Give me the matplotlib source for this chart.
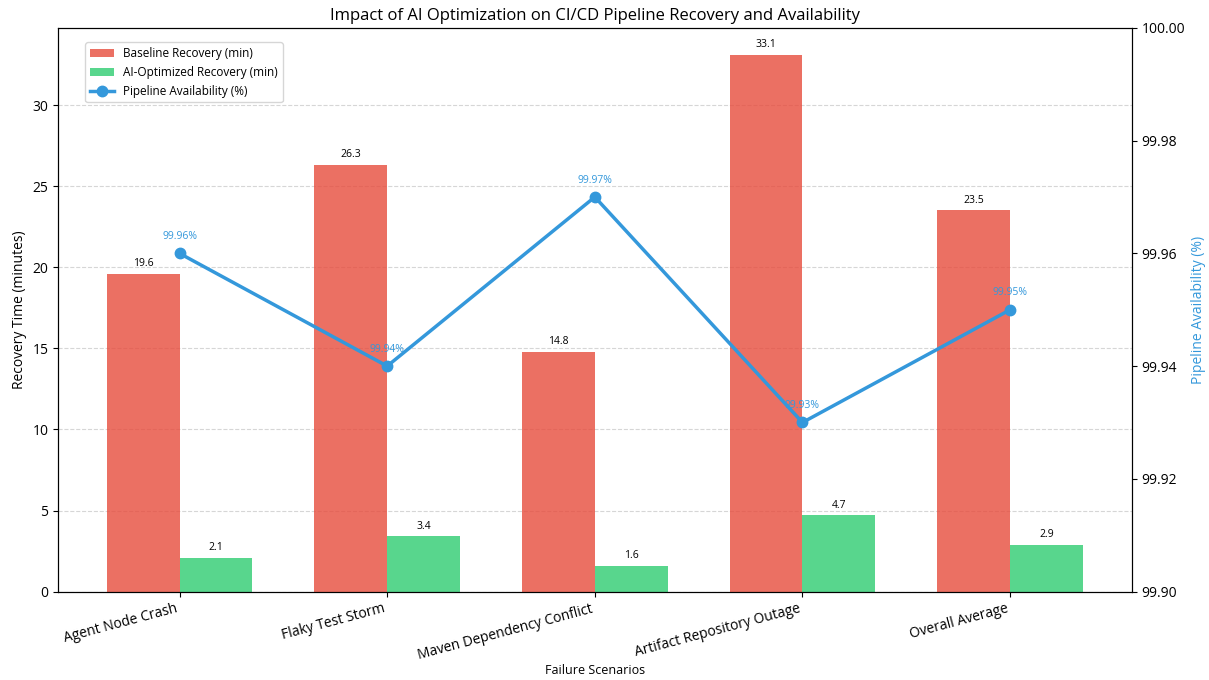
import numpy as np
import matplotlib
matplotlib.use("Agg")
import matplotlib.pyplot as plt

plt.rcParams['font.family'] = ['Open Sans', 'DejaVu Sans']

# recovery times and availability per failure scenario
scenarios = ["Agent Node Crash", "Flaky Test Storm", "Maven Dependency Conflict",
             "Artifact Repository Outage", "Overall Average"]
baseline = [19.6, 26.3, 14.8, 33.1, 23.5]
optimized = [2.1, 3.4, 1.6, 4.7, 2.9]
availability = [99.96, 99.94, 99.97, 99.93, 99.95]

x = np.arange(len(scenarios))
width = 0.35

fig, ax = plt.subplots(figsize=(12.09, 6.8), dpi=100)

b1 = ax.bar(x - width/2, baseline, width, color='#e74c3c', alpha=0.8,
            label='Baseline Recovery (min)')
b2 = ax.bar(x + width/2, optimized, width, color='#2ecc71', alpha=0.8,
            label='AI-Optimized Recovery (min)')

for bars in (b1, b2):
    for bar in bars:
        h = bar.get_height()
        ax.text(bar.get_x() + bar.get_width()/2, h + 0.3, f'{h}',
                ha='center', va='bottom', fontsize=7.5)

ax.set_ylim(0, max(baseline) * 1.05)
ax.set_ylabel('Recovery Time (minutes)', fontsize=10)
ax.set_xlabel('Failure Scenarios', fontsize=9, labelpad=1)
ax.set_xticks(x)
ax.set_xticklabels(scenarios, rotation=15, ha='right', fontsize=10)
ax.yaxis.grid(True, linestyle='--', color='#cccccc', alpha=0.8)
ax.set_axisbelow(True)

ax2 = ax.twinx()
line, = ax2.plot(x, availability, color='#3498db', marker='o', linewidth=2.5,
                 markersize=7.5, label='Pipeline Availability (%)')
for xi, v in zip(x, availability):
    ax2.text(xi, v + 0.002, f'{v:.2f}%', ha='center', va='bottom',
             fontsize=7.5, color='#3498db')
ax2.set_ylim(99.90, 100.00)
ax2.set_ylabel('Pipeline Availability (%)', color='#3498db', fontsize=10)
ticks = [99.90, 99.92, 99.94, 99.96, 99.98, 100.00]
ax2.set_yticks(ticks)
ax2.set_yticklabels([f'{t:.2f}' for t in ticks])

ax.set_title('Impact of AI Optimization on CI/CD Pipeline Recovery and Availability',
             fontsize=12)

handles = [b1, b2, line]
ax.legend(handles, [h.get_label() for h in handles], loc='upper left',
          fontsize=8.5, bbox_to_anchor=(0.02, 0.985))

fig.subplots_adjust(left=0.048, right=0.936, top=0.959, bottom=0.13)
fig.savefig('out.png', dpi=100)
